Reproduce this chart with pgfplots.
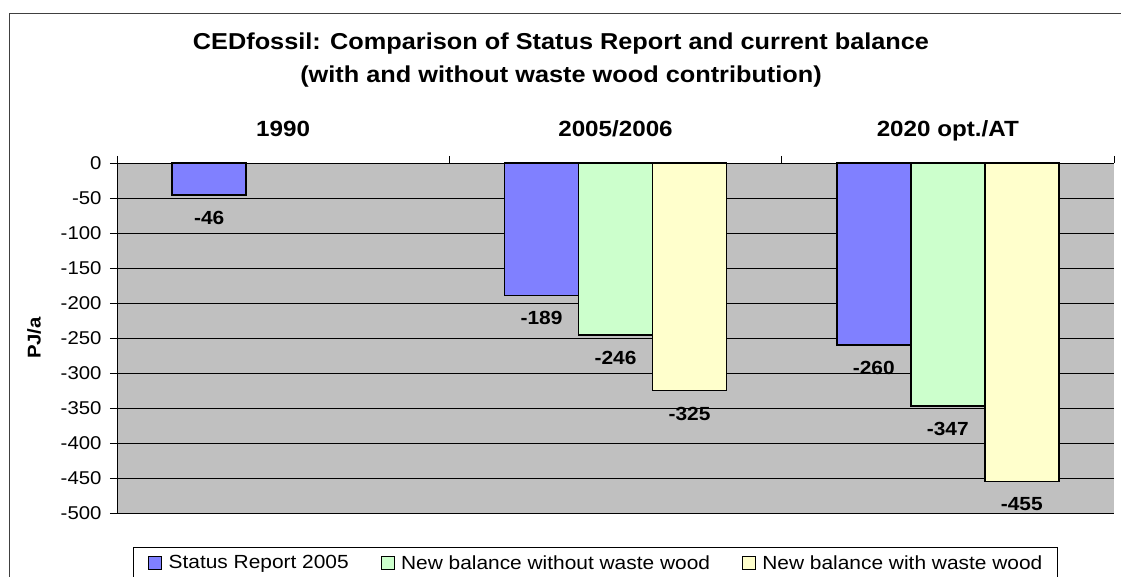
\documentclass[border=0pt]{standalone}
\usepackage{pgfplots}
\pgfplotsset{compat=1.18}
\usepackage{fontspec}
\setmainfont{Liberation Sans}[FakeStretch=1.1]
\definecolor{cBlue}{HTML}{8080FF}
\definecolor{cGreen}{HTML}{CCFFCC}
\definecolor{cYellow}{HTML}{FFFFCC}
\definecolor{cBack}{HTML}{C0C0C0}
\begin{document}
\begin{tikzpicture}
\useasboundingbox (0,0) rectangle (1121bp,577bp);
\draw[black!75, line width=1bp] (9.5bp,-2bp) -- (9.5bp,563bp) -- (1123bp,563bp);
\begin{axis}[
  at={(117bp,64bp)}, anchor=south west,
  scale only axis, width=997bp, height=350bp,
  xmin=-0.5, xmax=2.5, ymin=-500, ymax=0,
  axis x line*=top, axis y line*=left,
  axis line style={black, line width=0.8bp, -},
  axis background/.style={fill=cBack},
  ybar=0pt, bar width=74bp,
  xtick={-0.5,0.5,1.5,2.5},
  x tick label as interval,
  xticklabels={1990,2005/2006,2020 opt./AT},
  xticklabel style={font=\fontsize{22bp}{26bp}\selectfont\bfseries, anchor=base, yshift=19bp},
  ytick={-500,-450,-400,-350,-300,-250,-200,-150,-100,-50,0},
  yticklabel style={font=\fontsize{18.5bp}{22bp}\selectfont, xshift=-5bp},
  /pgf/number format/assume math mode=true,
  tick align=outside, major tick length=7bp,
  tick style={black, line width=0.8bp},
  ymajorgrids, grid style={black, line width=0.8bp},
  ylabel={PJ/a},
  ylabel style={at={(axis description cs:-0.0832,0.5)}, anchor=center, font=\fontsize{18.5bp}{22bp}\selectfont\bfseries},
  nodes near coords={\pgfmathprintnumber[assume math mode=true]{\pgfplotspointmeta}},
  every node near coord/.append style={font=\fontsize{19bp}{22bp}\selectfont\bfseries, anchor=center, yshift=-23bp},
  legend columns=-1,
  legend style={at={(0.016,-0.0971)}, anchor=north west, draw=black, line width=0.8bp, fill=white,
    font=\fontsize{19bp}{22bp}\selectfont, inner xsep=15bp, inner ysep=8bp,
    nodes={inner sep=0pt},
    /tikz/every odd column/.append style={column sep=6.5bp},
    /tikz/every even column/.append style={column sep=32bp}},
  legend image code/.code={\draw[#1, draw=black, line width=0.8bp] (2bp,-6.5bp) rectangle (15bp,6.5bp);},
]
\addplot[fill=cBlue, draw=black, line width=1.4bp] coordinates {(0,-46) (1,-189) (2,-260)};
\addplot[fill=cGreen, draw=black, line width=1.4bp] coordinates {(1,-246) (2,-347)};
\addplot[fill=cYellow, draw=black, line width=1.4bp] coordinates {(1,-325) (2,-455)};
\legend{Status Report 2005, New balance without waste wood, New balance with waste wood}
\draw[gray, line width=0.8bp] (rel axis cs:1,0) -- (rel axis cs:1,1);
\draw[gray, line width=0.8bp] (rel axis cs:0,0) -- (rel axis cs:1,0);
\end{axis}
\node[font=\fontsize{23bp}{27bp}\selectfont\bfseries] at (561bp,533bp) {CEDfossil: Comparison of Status Report and current balance};
\node[font=\fontsize{23bp}{27bp}\selectfont\bfseries] at (561bp,500bp) {(with and without waste wood contribution)};
\end{tikzpicture}
\end{document}
